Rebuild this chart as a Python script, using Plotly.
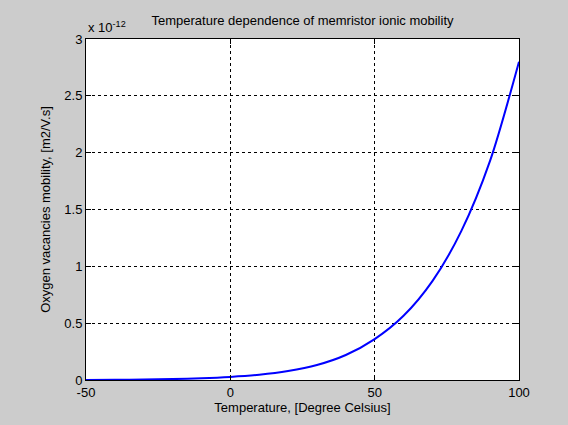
import plotly.graph_objects as go

temperature_c = [-50, -40, -30, -20, -10, 0, 10, 20, 30, 40, 50, 60, 70, 80, 90, 100]
mobility_e12 = [0.001, 0.002, 0.004, 0.008, 0.015, 0.027, 0.046, 0.079, 0.132, 0.220,
                0.360, 0.565, 0.870, 1.31, 1.93, 2.80]
x_ticks = [-50, 0, 50, 100]
y_ticks = [0, 0.5, 1, 1.5, 2, 2.5, 3]
y_tick_labels = ["0", "0.5", "1", "1.5", "2", "2.5", "3"]

FONT = "Liberation Sans, Arial, sans-serif"

fig = go.Figure()
fig.add_trace(go.Scatter(
    x=temperature_c, y=mobility_e12, mode="lines",
    line=dict(color="#0000ff", width=2, shape="spline", smoothing=0.8),
    showlegend=False, hoverinfo="skip"))

axis_common = dict(
    showline=True, linecolor="black", linewidth=1, mirror="ticks",
    ticks="inside", ticklen=5, tickcolor="black",
    showgrid=True, gridcolor="black", gridwidth=1, griddash="3px,3px",
    zeroline=False, tickfont=dict(family=FONT, size=13, color="black"),
)

fig.update_xaxes(range=[-50, 100], tickvals=x_ticks, ticktext=[str(v) for v in x_ticks],
                 title=dict(text="Temperature, [Degree Celsius]", standoff=4,
                            font=dict(family=FONT, size=13, color="black")),
                 **axis_common)
fig.update_yaxes(range=[0, 3], tickvals=y_ticks, ticktext=y_tick_labels,
                 title=dict(text="Oxygen vacancies mobility, [m2/V.s]", standoff=10,
                            font=dict(family=FONT, size=13, color="black")),
                 **axis_common)

fig.update_layout(
    width=568, height=425,
    margin=dict(l=86, r=49, t=39, b=41, pad=0),
    paper_bgcolor="#cccccc", plot_bgcolor="white",
    title=dict(text="Temperature dependence of memristor ionic mobility",
               x=(86 + 519) / 2 / 568, xanchor="center", y=1 - 20 / 425, yanchor="middle",
               font=dict(family=FONT, size=13, color="black")),
    annotations=[dict(text="x 10<sup>-12</sup>", xref="paper", yref="paper",
                      x=0, y=1, xanchor="left", yanchor="bottom", yshift=2, showarrow=False,
                      font=dict(family=FONT, size=13, color="black"))],
)

fig.write_html("out.html", config={"displayModeBar": False},
               post_script="document.body.style.margin='0';document.body.style.background='#cccccc';")
